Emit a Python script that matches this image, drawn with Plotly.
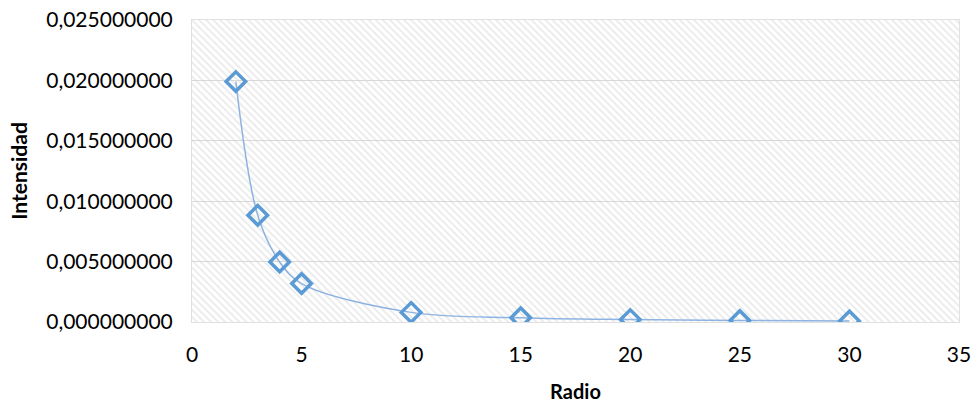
import plotly.graph_objects as go

radio = [2, 3, 4, 5, 10, 15, 20, 25, 30]
intensidad = [0.0199, 0.00884, 0.00497, 0.00318, 0.000796, 0.000354, 0.000199, 0.000127, 0.0000884]
x_range = [0, 35]
y_range = [0, 0.025]
x_ticks = [0, 5, 10, 15, 20, 25, 30, 35]
y_ticks = [0, 0.005, 0.01, 0.015, 0.02, 0.025]

font_family = "Lato, 'Open Sans', sans-serif"

fig = go.Figure()

# hatched plot-area background
fig.add_trace(go.Scatter(
    x=[x_range[0], x_range[1], x_range[1], x_range[0], x_range[0]],
    y=[y_range[0], y_range[0], y_range[1], y_range[1], y_range[0]],
    mode="none", fill="toself", fillcolor="rgba(0,0,0,0)",
    fillpattern=dict(shape="\\", fgcolor="#d6d6d6", bgcolor="rgba(0,0,0,0)",
                     size=5, solidity=0.35),
    hoverinfo="skip", showlegend=False,
))

fig.add_trace(go.Scatter(
    x=radio, y=intensidad, mode="lines+markers",
    line=dict(shape="spline", smoothing=1.0, color="#8db3e2", width=1.5),
    marker=dict(symbol="diamond-open", size=15, color="#5b9bd5",
                line=dict(width=3.5, color="#5b9bd5")),
    showlegend=False,
))

fig.update_layout(
    width=974, height=403,
    margin=dict(l=192, r=15, t=20, b=81),
    paper_bgcolor="white", plot_bgcolor="white",
    separators=",.",
    font=dict(family=font_family, size=21, color="#000000"),
)

fig.update_xaxes(
    range=x_range, tickvals=x_ticks, showgrid=False, zeroline=False,
    showline=True, linecolor="#e0e0e0", linewidth=1, mirror=True,
    ticks="outside", ticklen=14, tickcolor="rgba(0,0,0,0)",
    automargin=False, ticklabeloverflow="allow",
    title=dict(text="<b>Radio</b>", font=dict(size=20), standoff=21),
)
fig.update_yaxes(
    range=y_range, tickvals=y_ticks, tickformat=".9f",
    showgrid=True, gridcolor="#d9d9d9", gridwidth=1, zeroline=False,
    showline=True, linecolor="#e0e0e0", linewidth=1, mirror=True,
    ticks="outside", ticklen=14, tickcolor="rgba(0,0,0,0)",
    automargin=False, ticklabeloverflow="allow",
    title=dict(text="<b>Intensidad</b>", font=dict(size=21), standoff=12),
)

fig.write_html(
    "out.html",
    config={"displayModeBar": False},
    post_script="document.body.style.margin='0';document.body.style.overflow='hidden';",
)
